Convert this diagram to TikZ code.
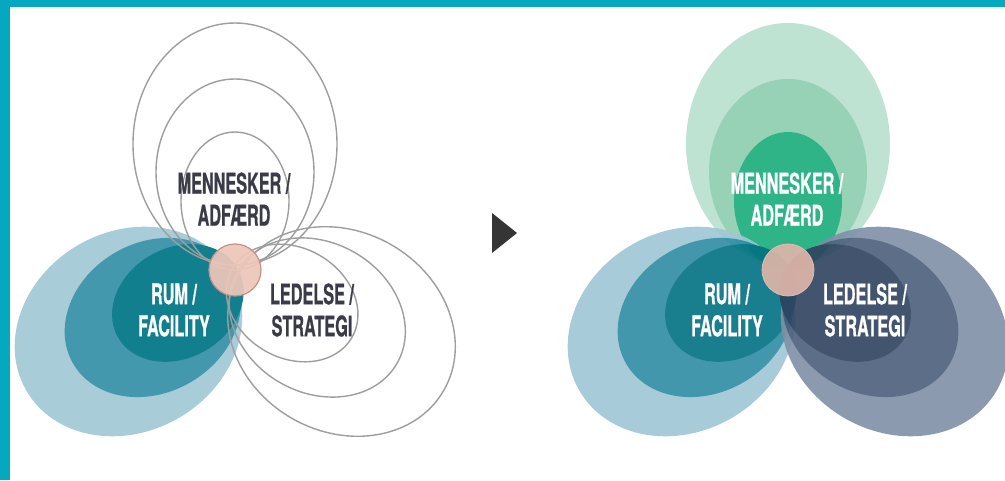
\documentclass[tikz,border=0pt]{standalone}
\usepackage{fontspec}
\newfontfamily\condfont[FakeStretch=0.57,FakeBold=0.6]{TeX Gyre Heros}
\definecolor{bandcyan}{HTML}{04A9C0}
\definecolor{ringgray}{HTML}{9E9E9E}
\definecolor{rumA}{HTML}{A8CCD8}
\definecolor{rumB}{HTML}{4398AE}
\definecolor{rumC}{HTML}{117F8E}
\definecolor{rumAt}{HTML}{9EC6D4}
\definecolor{rumBt}{HTML}{2E8CA5}
\definecolor{rumCt}{HTML}{007181}
\definecolor{menA}{HTML}{BFE3D3}
\definecolor{menB}{HTML}{97D2B7}
\definecolor{menC}{HTML}{2EB486}
\definecolor{ledAt}{HTML}{8090A7}
\definecolor{ledBt}{HTML}{4C5F7C}
\definecolor{ledCt}{HTML}{2F425F}
\definecolor{core}{HTML}{EDC6BA}
\definecolor{coreB}{HTML}{DFB5A8}
\definecolor{coreline}{HTML}{C39186}
\definecolor{txtdark}{HTML}{3A3A48}
\definecolor{arrowgray}{HTML}{353535}
% #1 options, #2 angle, #3 distance, #4 semi-axis along, #5 semi-axis across
\newcommand\petal[5]{\path[#1, shift={(#2:#3)}, rotate=#2] (0,0) ellipse [x radius=#4, y radius=#5];}
% full lobe: #1 angle, #2/#3/#4 outer/mid/inner options
\newcommand\lobeset[4]{%
  \ifnum#1=90
    \petal{#2}{#1}{126}{121}{102}\petal{#3}{#1}{98}{93}{79}\petal{#4}{#1}{69}{69}{54}%
  \else
    \petal{#2}{#1}{123}{118}{100}\petal{#3}{#1}{95}{92}{75}\petal{#4}{#1}{66}{69}{55}%
  \fi}
\begin{document}
\begin{tikzpicture}[x=1pt,y=1pt,
  lbl/.style={font=\condfont\bfseries\fontsize{28.5}{32}\selectfont, align=center, inner sep=0pt},
  ring/.style={draw=ringgray, line width=1.4pt},
]
\fill[white] (0,0) rectangle (1005,480);
\useasboundingbox (0,0) rectangle (1005,480);
\fill[bandcyan] (0,473) rectangle (1005,480);
\fill[bandcyan] (0,0) rectangle (10,480);

% ---------- left diagram ----------
\begin{scope}[shift={(235,210)}]
  \lobeset{210}{fill=rumA}{fill=rumB}{fill=rumC}
  \lobeset{90}{ring}{ring}{ring}
  \lobeset{330}{ring}{ring}{ring}
  \filldraw[fill=core, draw=coreline, line width=1.2pt, fill opacity=0.93] (0,0) circle [radius=26];
\end{scope}
\node[lbl, text=txtdark] (menL) at (234,281) {MENNESKER /\\ADFÆRD};
\node[lbl, text=white] (rumL) at (174,170) {RUM /\\FACILITY};
\node[lbl, text=txtdark] (ledL) at (312,170) {LEDELSE /\\STRATEGI};

% ---------- arrow ----------
\fill[arrowgray] (492,267) -- (517,247) -- (492,227) -- cycle;

% ---------- right diagram ----------
\begin{scope}[shift={(788,210)}]
  \lobeset{90}{fill=menA}{fill=menB}{fill=menC}
  \begin{scope}[transparency group, opacity=0.9]
    \lobeset{210}{fill=rumAt}{fill=rumBt}{fill=rumCt}
  \end{scope}
  \begin{scope}[transparency group, opacity=0.9]
    \lobeset{330}{fill=ledAt}{fill=ledBt}{fill=ledCt}
  \end{scope}
  \filldraw[fill=coreB, draw=coreline!60, line width=0.8pt, fill opacity=0.92] (0,0) circle [radius=26];
\end{scope}
\node[lbl, text=white] (menR) at (787,281) {MENNESKER /\\ADFÆRD};
\node[lbl, text=white] (rumR) at (727,170) {RUM /\\FACILITY};
\node[lbl, text=white] (ledR) at (865,170) {LEDELSE /\\STRATEGI};
\end{tikzpicture}
\end{document}
